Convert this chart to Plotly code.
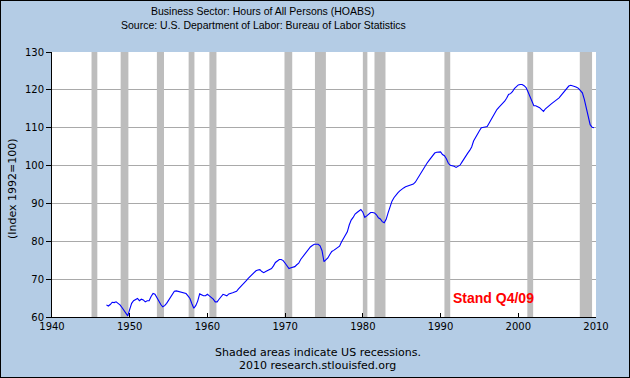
import pandas as pd
import plotly.graph_objects as go

# Quarterly index values, 1947Q1 .. 2009Q4 (Index 1992=100)
hoabs_by_year = {
    1947: [63.2, 62.9, 63.3, 63.9],
    1948: [63.8, 64.0, 63.6, 63.2],
    1949: [62.5, 61.8, 61.0, 60.3],
    1950: [62.0, 63.6, 64.3, 64.6],
    1951: [64.9, 64.3, 64.7, 64.5],
    1952: [64.0, 64.3, 64.3, 65.4],
    1953: [66.2, 66.0, 65.0, 64.2],
    1954: [63.3, 62.7, 63.0, 63.6],
    1955: [64.5, 65.2, 66.2, 66.8],
    1956: [66.9, 66.8, 66.7, 66.5],
    1957: [66.4, 66.2, 65.6, 64.9],
    1958: [63.5, 62.3, 63.0, 64.2],
    1959: [66.1, 65.8, 65.6, 65.6],
    1960: [66.0, 65.6, 65.2, 64.7],
    1961: [64.0, 64.0, 64.7, 65.3],
    1962: [66.0, 65.8, 65.6, 66.1],
    1963: [66.2, 66.4, 66.6, 66.8],
    1964: [67.4, 67.9, 68.5, 68.9],
    1965: [69.6, 70.2, 70.7, 71.2],
    1966: [71.8, 72.2, 72.4, 72.5],
    1967: [72.0, 71.7, 72.0, 72.2],
    1968: [72.4, 72.8, 73.5, 74.4],
    1969: [74.8, 75.2, 75.2, 74.9],
    1970: [74.2, 73.6, 72.8, 73.0],
    1971: [73.1, 73.3, 73.8, 74.2],
    1972: [75.2, 75.9, 76.4, 77.2],
    1973: [77.7, 78.5, 78.9, 79.2],
    1974: [79.2, 79.2, 78.8, 77.5],
    1975: [74.6, 75.0, 75.6, 76.5],
    1976: [77.3, 77.6, 77.9, 78.3],
    1977: [78.7, 79.8, 80.6, 81.6],
    1978: [82.5, 84.3, 85.6, 86.3],
    1979: [87.2, 87.6, 88.0, 88.4],
    1980: [87.7, 86.3, 86.7, 87.3],
    1981: [87.6, 87.6, 87.5, 87.0],
    1982: [86.2, 85.9, 85.2, 84.9],
    1983: [85.8, 87.5, 89.0, 90.6],
    1984: [91.5, 92.3, 92.8, 93.3],
    1985: [93.8, 94.1, 94.4, 94.6],
    1986: [94.6, 94.8, 95.1, 95.6],
    1987: [96.5, 97.3, 98.3, 99.0],
    1988: [99.8, 100.6, 101.3, 101.9],
    1989: [102.7, 103.3, 103.5, 103.6],
    1990: [103.6, 102.9, 102.6, 101.8],
    1991: [100.6, 100.1, 100.0, 99.8],
    1992: [99.5, 99.7, 100.1, 100.9],
    1993: [101.8, 102.6, 103.3, 104.0],
    1994: [104.9, 106.5, 107.5, 108.4],
    1995: [109.2, 110.0, 110.2, 110.2],
    1996: [110.3, 111.2, 112.2, 113.4],
    1997: [114.1, 114.8, 115.4, 115.9],
    1998: [116.3, 117.0, 117.8, 118.8],
    1999: [119.0, 119.5, 120.3, 120.8],
    2000: [121.3, 121.4, 121.4, 121.1],
    2001: [120.6, 119.5, 118.2, 116.9],
    2002: [115.8, 115.8, 115.6, 115.3],
    2003: [114.8, 114.3, 115.0, 115.5],
    2004: [116.0, 116.3, 116.7, 117.0],
    2005: [117.5, 117.9, 118.5, 119.0],
    2006: [119.6, 120.3, 121.0, 121.2],
    2007: [121.1, 120.9, 120.7, 120.4],
    2008: [119.8, 119.2, 117.5, 115.5],
    2009: [112.8, 110.8, 110.1, 110.0],
}

recession_starts = ["1945-02-01", "1948-11-01", "1953-07-01", "1957-08-01", "1960-04-01",
                    "1969-12-01", "1973-11-01", "1980-01-01", "1981-07-01", "1990-07-01",
                    "2001-03-01", "2007-12-01"]
recession_ends = ["1945-10-31", "1949-10-31", "1954-05-31", "1958-04-30", "1961-02-28",
                  "1970-11-30", "1975-03-31", "1980-07-31", "1982-11-30", "1991-03-31",
                  "2001-11-30", "2009-06-30"]

x_tick_vals = ["1940-01-01", "1950-01-01", "1960-01-01", "1970-01-01", "1980-01-01",
               "1990-01-01", "2000-01-01", "2010-01-01"]
x_tick_text = ["1940", "1950", "1960", "1970", "1980", "1990", "2000", "2010"]
y_tick_vals = [60, 70, 80, 90, 100, 110, 120, 130]

title_lines = ["Business Sector: Hours of All Persons (HOABS)",
               "Source: U.S. Department of Labor: Bureau of Labor Statistics"]
footer_lines = ["Shaded areas indicate US recessions.", "2010 research.stlouisfed.org"]
y_title = "(Index 1992=100)"
note_text = "Stand Q4/09"

values = [v for yr in sorted(hoabs_by_year) for v in hoabs_by_year[yr]]
first_year = min(hoabs_by_year)
dates = pd.period_range(f"{first_year}Q1", periods=len(values), freq="Q").to_timestamp()

BG = "#b4cce5"
fig = go.Figure()
fig.add_trace(go.Scatter(x=dates, y=values, mode="lines",
                         line=dict(color="#0000ff", width=1.1), hoverinfo="skip"))

shapes = []
for s, e in zip(recession_starts, recession_ends):
    shapes.append(dict(type="rect", xref="x", yref="y", x0=s, x1=e, y0=60, y1=130,
                       fillcolor="#bdbdbd", line=dict(width=0), layer="between"))

# outer page border
L, R, T, B = 52, 34, 52, 61
W, H = 630, 378
pw, ph = W - L - R, H - T - B
shapes.append(dict(type="rect", xref="paper", yref="paper",
                   x0=-L / pw, x1=(W - L) / pw, y0=-B / ph, y1=(H - B) / ph,
                   line=dict(color="black", width=2), fillcolor="rgba(0,0,0,0)", layer="above"))

def px_x(p):
    return (p - L) / pw

def px_y(p):
    return (H - B - p) / ph

annotations = [
    dict(text=title_lines[0], xref="paper", yref="paper", x=px_x(263), y=px_y(11.5),
         showarrow=False, font=dict(family="Liberation Sans", size=10.5, color="black"),
         xanchor="center", yanchor="middle"),
    dict(text=title_lines[1], xref="paper", yref="paper", x=px_x(263), y=px_y(25),
         showarrow=False, font=dict(family="Liberation Sans", size=10.5, color="black"),
         xanchor="center", yanchor="middle"),
    dict(text=footer_lines[0], xref="paper", yref="paper", x=px_x(317.5), y=px_y(352),
         showarrow=False, font=dict(family="DejaVu Sans", size=11, color="black"),
         xanchor="center", yanchor="middle"),
    dict(text=footer_lines[1], xref="paper", yref="paper", x=px_x(317), y=px_y(365),
         showarrow=False, font=dict(family="DejaVu Sans", size=11, color="black"),
         xanchor="center", yanchor="middle"),
    dict(text=y_title, xref="paper", yref="paper", x=px_x(12.5), y=px_y(188.5),
         showarrow=False, textangle=-90, font=dict(family="DejaVu Sans", size=11, color="black"),
         xanchor="center", yanchor="middle"),
    dict(text="<b>" + note_text + "</b>", xref="x", yref="y", x="1991-05-01", y=65.1,
         showarrow=False, font=dict(family="Liberation Sans", size=14, color="#ff0000"),
         xanchor="left", yanchor="middle"),
]

fig.update_layout(
    width=W, height=H,
    margin=dict(l=L, r=R, t=T, b=B, pad=0),
    paper_bgcolor=BG, plot_bgcolor="white",
    showlegend=False,
    shapes=shapes, annotations=annotations,
    xaxis=dict(type="date", range=["1940-01-01", "2010-01-01"],
               tickvals=x_tick_vals, ticktext=x_tick_text,
               ticks="inside", ticklen=4, tickcolor="black", tickwidth=1,
               showgrid=False, zeroline=False,
               showline=True, linecolor="black", linewidth=1,
               tickfont=dict(family="DejaVu Sans", size=10, color="black")),
    yaxis=dict(range=[60, 130], tickvals=y_tick_vals,
               ticks="outside", ticklen=5, tickcolor="black", tickwidth=1,
               showgrid=True, gridcolor="#a9a9a9", gridwidth=1, zeroline=False,
               showline=True, linecolor="black", linewidth=1,
               tickfont=dict(family="DejaVu Sans", size=10, color="black")),
)

fig.write_html("out.html", config={"displayModeBar": False},
               post_script="document.body.style.margin='0';document.body.style.overflow='hidden';")
